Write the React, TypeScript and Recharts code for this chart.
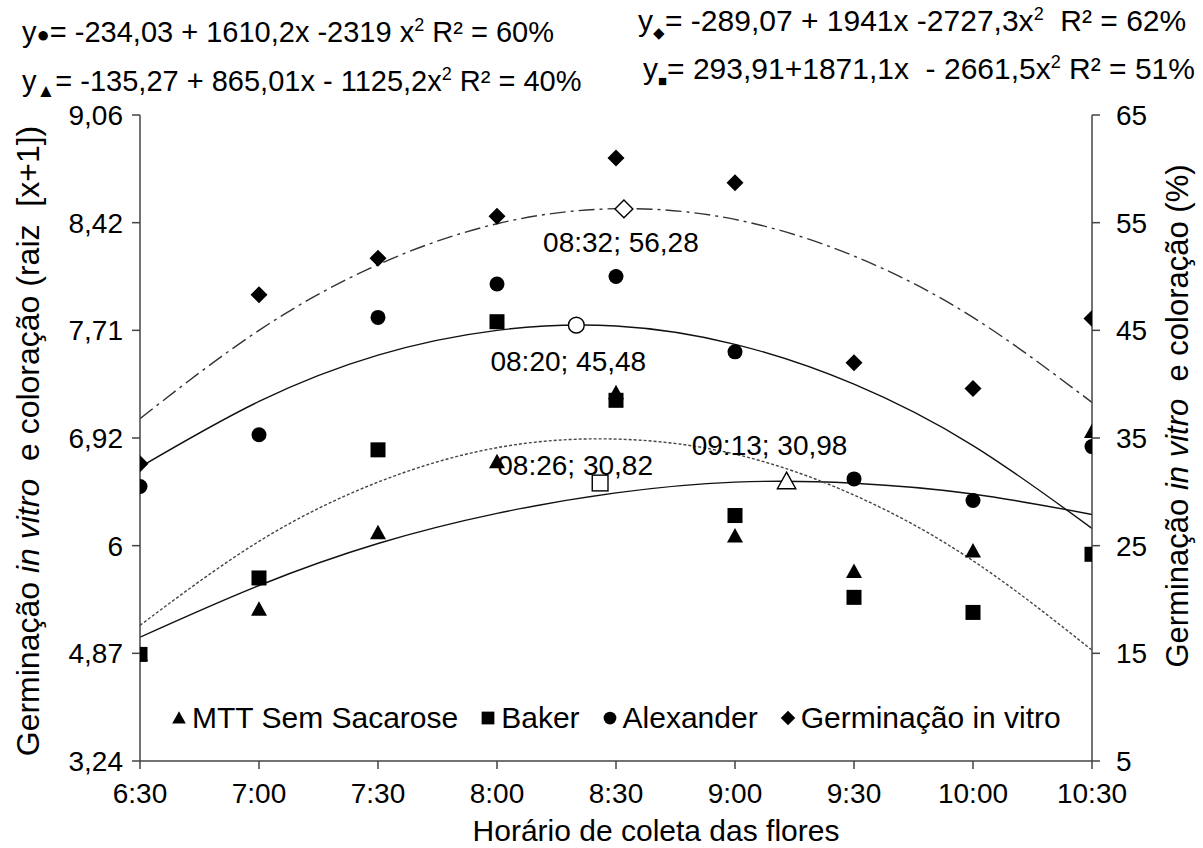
import { ComposedChart, Line, Scatter, XAxis, YAxis, Legend } from "recharts";

const HORAS = [6.5, 7, 7.5, 8, 8.5, 9, 9.5, 10, 10.5];
const ROTULOS_HORA = ["6:30", "7:00", "7:30", "8:00", "8:30", "9:00", "9:30", "10:00", "10:30"];
const TICKS_PCT = [5, 15, 25, 35, 45, 55, 65];
const TICKS_RAIZ = ["3,24", "4,87", "6", "6,92", "7,71", "8,42", "9,06"];

// valores observados (%)
const MTT = [14.9, 19.1, 26.2, 32.8, 39.2, 25.9, 22.6, 24.5, 35.6];
const BAKER = [14.9, 22.0, 33.9, 45.8, 38.5, 27.8, 20.2, 18.8, 24.2];
const ALEXANDER = [30.5, 35.3, 46.2, 49.3, 50.0, 43.0, 31.2, 29.2, 34.2];
const GERMINACAO = [32.6, 48.3, 51.7, 55.6, 61.0, 58.7, 42.0, 39.6, 46.1];

// curvas ajustadas, lidas em cada horário
const AJUSTE_MTT = [16.5, 21.3, 25.2, 28.0, 29.9, 30.9, 30.8, 29.8, 27.9];
const AJUSTE_BAKER = [17.6, 25.4, 30.9, 34.1, 34.9, 33.5, 29.7, 23.6, 15.3];
const AJUSTE_ALEXANDER = [32.3, 38.4, 42.7, 45.0, 45.4, 43.7, 40.0, 34.3, 26.6];
const AJUSTE_GERMINACAO = [36.8, 45.0, 51.1, 54.9, 56.3, 55.3, 51.9, 46.2, 38.3];

// pontos de máximo
const VERTICES_X = [9.2167, 8.4333, 8.3333, 8.5333];
const VERTICES_Y = [30.98, 30.82, 45.48, 56.28];
const VERTICES_ROTULO = ["09:13; 30,98", "08:26; 30,82", "08:20; 45,48", "08:32; 56,28"];

type Forma = "triangle" | "square" | "circle" | "diamond";

const SERIES: { nome: string; valores: number[]; ajuste: number[]; forma: Forma; traco?: string; cor: string }[] = [
  { nome: "MTT Sem Sacarose", valores: MTT, ajuste: AJUSTE_MTT, forma: "triangle", cor: "#111" },
  { nome: "Baker", valores: BAKER, ajuste: AJUSTE_BAKER, forma: "square", traco: "3 2", cor: "#444" },
  { nome: "Alexander", valores: ALEXANDER, ajuste: AJUSTE_ALEXANDER, forma: "circle", cor: "#111" },
  { nome: "Germinação in vitro", valores: GERMINACAO, ajuste: AJUSTE_GERMINACAO, forma: "diamond", traco: "16 5 3 5", cor: "#333" },
];

// deslocamento dos rótulos dos máximos
const DESLOC_ROTULO = [
  [-17, -36],
  [-25, -18],
  [-8, 36],
  [-3, 34],
];

const pontos = (vals: number[]) => HORAS.map((x, i) => ({ x, y: vals[i] }));

function Marca({ forma, cx, cy, vazio, k = 1 }: { forma: Forma; cx: number; cy: number; vazio?: boolean; k?: number }) {
  const p = { fill: vazio ? "#fff" : "#000", stroke: "#000", strokeWidth: vazio ? 1.4 : 0 };
  if (forma === "circle") return <circle cx={cx} cy={cy} r={7.5 * k} {...p} />;
  if (forma === "square") return <rect x={cx - 7.5 * k} y={cy - 7.5 * k} width={15 * k} height={15 * k} {...p} />;
  if (forma === "diamond") {
    const r = 8.5 * k;
    return <polygon points={`${cx},${cy - r} ${cx + r},${cy} ${cx},${cy + r} ${cx - r},${cy}`} {...p} />;
  }
  const w = 8 * k;
  return <polygon points={`${cx},${cy - 8 * k} ${cx + w},${cy + 6.5 * k} ${cx - w},${cy + 6.5 * k}`} {...p} />;
}

const LegendaCustom = () => (
  <div style={{ display: "flex", alignItems: "center", fontSize: 30, whiteSpace: "nowrap" }}>
    {SERIES.map((s) => (
      <span key={s.nome} style={{ display: "flex", alignItems: "center", marginRight: 22 }}>
        <svg width={16} height={16} style={{ marginRight: 5 }}>
          <Marca forma={s.forma} cx={8} cy={8} k={0.85} />
        </svg>
        {s.nome}
      </span>
    ))}
  </div>
);

const estiloTexto = { position: "absolute" as const, whiteSpace: "pre" as const, lineHeight: 1 };

export default function App() {
  return (
    <div
      style={{
        position: "relative",
        width: 1203,
        height: 848,
        fontFamily: "'Liberation Sans', Arial, sans-serif",
        color: "#000",
        background: "#fff",
      }}
    >
      <style>{"body{margin:0}"}</style>
      <ComposedChart width={1203} height={848} margin={{ top: 115, right: 51, bottom: 37, left: 80 }}>
        <XAxis
          type="number"
          dataKey="x"
          domain={[6.5, 10.5]}
          ticks={HORAS}
          allowDataOverflow
          tickFormatter={(v) => ROTULOS_HORA[HORAS.indexOf(v)]}
          tick={{ fontSize: 28, fill: "#000" }}
          tickSize={8}
          tickMargin={14}
          height={50}
          stroke="#444"
          strokeWidth={1.5}
        />
        <YAxis
          yAxisId="l"
          type="number"
          domain={[5, 65]}
          ticks={TICKS_PCT}
          allowDataOverflow
          tickFormatter={(v) => TICKS_RAIZ[TICKS_PCT.indexOf(v)]}
          tick={{ fontSize: 28, fill: "#000" }}
          tickSize={8}
          tickMargin={9}
          width={60}
          stroke="#444"
          strokeWidth={1.5}
        />
        <YAxis
          yAxisId="r"
          orientation="right"
          type="number"
          domain={[5, 65]}
          ticks={TICKS_PCT}
          allowDataOverflow
          tick={{ fontSize: 28, fill: "#000" }}
          tickSize={8}
          tickMargin={16}
          width={60}
          stroke="#444"
          strokeWidth={1.5}
        />
        {SERIES.map((s) => (
          <Line
            key={"aj-" + s.nome}
            yAxisId="r"
            data={pontos(s.ajuste)}
            dataKey="y"
            type="natural"
            stroke={s.cor}
            strokeWidth={1.4}
            strokeDasharray={s.traco}
            dot={false}
            activeDot={false}
            legendType="none"
            isAnimationActive={false}
          />
        ))}
        {SERIES.map((s) => (
          <Scatter
            key={s.nome}
            name={s.nome}
            yAxisId="r"
            data={pontos(s.valores)}
            dataKey="y"
            shape={(p: any) => <Marca forma={s.forma} cx={p.cx} cy={p.cy} />}
            isAnimationActive={false}
          />
        ))}
        {SERIES.map((s, i) => (
          <Scatter
            key={"max-" + s.nome}
            yAxisId="r"
            data={[{ x: VERTICES_X[i], y: VERTICES_Y[i] }]}
            dataKey="y"
            legendType="none"
            shape={(p: any) => (
              <g>
                <Marca forma={s.forma} cx={p.cx} cy={p.cy} vazio k={s.forma === "triangle" ? 1.15 : 1.05} />
                <text
                  x={p.cx + DESLOC_ROTULO[i][0]}
                  y={p.cy + DESLOC_ROTULO[i][1]}
                  textAnchor="middle"
                  dominantBaseline="central"
                  fontSize={28}
                  fill="#000"
                >
                  {VERTICES_ROTULO[i]}
                </text>
              </g>
            )}
            isAnimationActive={false}
          />
        ))}
        <Legend
          layout="horizontal"
          verticalAlign="middle"
          align="center"
          content={LegendaCustom}
          wrapperStyle={{ top: 701, left: 171, width: "auto" }}
        />
      </ComposedChart>

      <div style={{ ...estiloTexto, left: 22, top: 16, fontSize: 29 }}>
        y<span style={{ fontSize: 22 }}>●</span>= -234,03 + 1610,2x -2319 x<sup style={{ fontSize: 18 }}>2</sup> R² = 60%
      </div>
      <div style={{ ...estiloTexto, left: 22, top: 65, fontSize: 29 }}>
        y<sub style={{ fontSize: 19 }}>▲</sub>= -135,27 + 865,01x - 1125,2x<sup style={{ fontSize: 18 }}>2</sup> R² = 40%
      </div>
      <div style={{ ...estiloTexto, left: 638, top: 5, fontSize: 30 }}>
        y<sub style={{ fontSize: 15 }}>◆</sub>= -289,07 + 1941x -2727,3x<sup style={{ fontSize: 18 }}>2</sup>  R² = 62%
      </div>
      <div style={{ ...estiloTexto, left: 643, top: 53, fontSize: 30 }}>
        y<sub style={{ fontSize: 15 }}>■</sub>= 293,91+1871,1x  - 2661,5x<sup style={{ fontSize: 18 }}>2</sup> R² = 51%
      </div>

      <div
        style={{
          ...estiloTexto,
          left: 28,
          top: 441,
          fontSize: 32,
          transform: "translate(-50%, -50%) rotate(-90deg)",
        }}
      >
        Germinação <i>in vitro</i>  e coloração (raiz  [x+1])
      </div>
      <div
        style={{
          ...estiloTexto,
          left: 1177,
          top: 416,
          fontSize: 31,
          transform: "translate(-50%, -50%) rotate(-90deg)",
        }}
      >
        Germinação <i>in vitro</i>  e coloração (%)
      </div>
      <div style={{ ...estiloTexto, left: 656, top: 831, fontSize: 30, transform: "translate(-50%, -50%)" }}>
        Horário de coleta das flores
      </div>
    </div>
  );
}
